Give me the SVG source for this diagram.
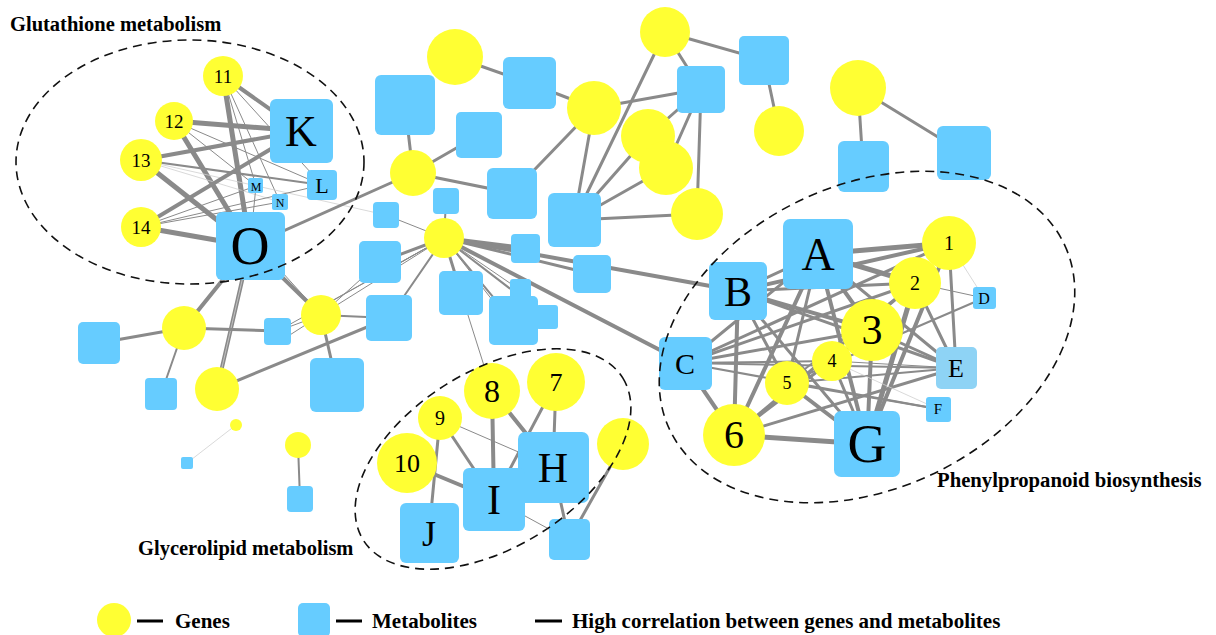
<svg xmlns="http://www.w3.org/2000/svg" width="1216" height="635" viewBox="0 0 1216 635">
<style>
.y{fill:#ffff33}
.b{fill:#66ccff}
.e line{stroke:#8a8a8a;stroke-linecap:round}
.w1{stroke-width:1}
.w2{stroke-width:2}
.w3{stroke-width:3}
.w4{stroke-width:4}
.w5{stroke-width:5}
.e line.f{stroke:#cfcfcf;stroke-width:0.8}
.t{font-family:"Liberation Serif","Times New Roman",serif;fill:#000;text-anchor:middle}
.h{font-family:"Liberation Serif","Times New Roman",serif;font-weight:bold;fill:#000}
.d{fill:none;stroke:#111;stroke-width:1.6;stroke-dasharray:9 6}
</style>
<rect width="1216" height="635" fill="#fff"/>
<g id="connectors" class="e">
<line x1="223" y1="76" x2="301" y2="131" class="w4"/>
<line x1="223" y1="76" x2="250" y2="246" class="w5"/>
<line x1="223" y1="76" x2="322" y2="185" class="w1"/>
<line x1="223" y1="76" x2="280" y2="202" class="w1"/>
<line x1="223" y1="76" x2="256" y2="186" class="w1"/>
<line x1="174" y1="121" x2="301" y2="131" class="w5"/>
<line x1="174" y1="121" x2="250" y2="246" class="w5"/>
<line x1="174" y1="121" x2="322" y2="185" class="w1"/>
<line x1="174" y1="121" x2="256" y2="186" class="w1"/>
<line x1="141" y1="160" x2="301" y2="131" class="w4"/>
<line x1="141" y1="160" x2="250" y2="246" class="w5"/>
<line x1="141" y1="160" x2="322" y2="185" class="w2"/>
<line x1="141" y1="160" x2="280" y2="202" class="f"/>
<line x1="141" y1="160" x2="386" y2="215" class="f"/>
<line x1="141" y1="227" x2="301" y2="131" class="w4"/>
<line x1="141" y1="227" x2="250" y2="246" class="w5"/>
<line x1="141" y1="227" x2="322" y2="185" class="w1"/>
<line x1="141" y1="227" x2="256" y2="186" class="w1"/>
<line x1="141" y1="227" x2="280" y2="202" class="w1"/>
<line x1="250" y1="246" x2="256" y2="186" class="w1"/>
<line x1="250" y1="246" x2="413" y2="173" class="w3"/>
<line x1="250" y1="246" x2="184" y2="328" class="w4"/>
<line x1="250" y1="246" x2="217" y2="389" class="w4"/>
<line x1="250" y1="246" x2="217" y2="389" class="f"/>
<line x1="250" y1="246" x2="321" y2="315" class="w4"/>
<line x1="262" y1="250" x2="321" y2="315" class="w1"/>
<line x1="455" y1="57" x2="529" y2="83" class="w3"/>
<line x1="529" y1="83" x2="594" y2="108" class="w3"/>
<line x1="594" y1="108" x2="512" y2="193" class="w3"/>
<line x1="594" y1="108" x2="574" y2="220" class="w3"/>
<line x1="594" y1="108" x2="701" y2="89" class="w3"/>
<line x1="665" y1="32" x2="701" y2="89" class="w3"/>
<line x1="665" y1="32" x2="764" y2="60" class="w3"/>
<line x1="665" y1="32" x2="574" y2="220" class="w3"/>
<line x1="764" y1="60" x2="779" y2="131" class="w3"/>
<line x1="648" y1="136" x2="701" y2="89" class="w3"/>
<line x1="666" y1="168" x2="701" y2="89" class="w3"/>
<line x1="701" y1="89" x2="697" y2="214" class="w3"/>
<line x1="574" y1="220" x2="648" y2="136" class="w3"/>
<line x1="574" y1="220" x2="666" y2="168" class="w3"/>
<line x1="574" y1="220" x2="697" y2="214" class="w3"/>
<line x1="413" y1="173" x2="405" y2="105" class="w3"/>
<line x1="413" y1="173" x2="479" y2="135" class="w3"/>
<line x1="413" y1="173" x2="512" y2="193" class="w3"/>
<line x1="858" y1="88" x2="863" y2="166" class="w3"/>
<line x1="858" y1="88" x2="964" y2="153" class="w3"/>
<line x1="444" y1="238" x2="446" y2="201" class="w2"/>
<line x1="444" y1="238" x2="386" y2="215" class="w1"/>
<line x1="444" y1="238" x2="525" y2="248" class="w4"/>
<line x1="444" y1="238" x2="592" y2="274" class="w3"/>
<line x1="444" y1="238" x2="738" y2="291" class="w4"/>
<line x1="444" y1="238" x2="685" y2="363" class="w4"/>
<line x1="444" y1="238" x2="380" y2="262" class="w3"/>
<line x1="444" y1="238" x2="370" y2="280" class="w1"/>
<line x1="444" y1="238" x2="389" y2="318" class="w2"/>
<line x1="444" y1="238" x2="321" y2="315" class="w1"/>
<line x1="444" y1="238" x2="325" y2="305" class="w1"/>
<line x1="444" y1="238" x2="278" y2="331" class="w1"/>
<line x1="444" y1="238" x2="461" y2="293" class="w3"/>
<line x1="444" y1="238" x2="513" y2="321" class="w2"/>
<line x1="444" y1="238" x2="500" y2="310" class="w1"/>
<line x1="444" y1="238" x2="520" y2="290" class="w1"/>
<line x1="444" y1="238" x2="547" y2="317" class="w2"/>
<line x1="461" y1="293" x2="492" y2="391" class="w1"/>
<line x1="321" y1="315" x2="380" y2="262" class="w1"/>
<line x1="321" y1="315" x2="389" y2="318" class="w2"/>
<line x1="321" y1="315" x2="278" y2="331" class="w1"/>
<line x1="321" y1="315" x2="282" y2="340" class="w1"/>
<line x1="321" y1="315" x2="337" y2="385" class="w3"/>
<line x1="184" y1="328" x2="99" y2="343" class="w3"/>
<line x1="184" y1="328" x2="161" y2="394" class="w2"/>
<line x1="184" y1="328" x2="278" y2="331" class="w3"/>
<line x1="217" y1="389" x2="389" y2="318" class="w3"/>
<line x1="236" y1="425" x2="187" y2="463" class="f"/>
<line x1="298" y1="445" x2="300" y2="499" class="w2"/>
<line x1="440" y1="418" x2="494" y2="499" class="w3"/>
<line x1="440" y1="418" x2="553" y2="467" class="w1"/>
<line x1="440" y1="418" x2="429" y2="533" class="w3"/>
<line x1="407" y1="463" x2="494" y2="499" class="w4"/>
<line x1="492" y1="391" x2="494" y2="499" class="w4"/>
<line x1="492" y1="391" x2="553" y2="467" class="w4"/>
<line x1="556" y1="382" x2="553" y2="467" class="w3"/>
<line x1="556" y1="382" x2="494" y2="499" class="w3"/>
<line x1="494" y1="499" x2="569" y2="540" class="w1"/>
<line x1="553" y1="467" x2="569" y2="540" class="w3"/>
<line x1="623" y1="444" x2="569" y2="540" class="w3"/>
<line x1="818" y1="254" x2="949" y2="243" class="w5"/>
<line x1="738" y1="291" x2="949" y2="243" class="w4"/>
<line x1="818" y1="254" x2="915" y2="283" class="w5"/>
<line x1="818" y1="254" x2="872" y2="330" class="w4"/>
<line x1="818" y1="254" x2="867" y2="444" class="w4"/>
<line x1="818" y1="254" x2="734" y2="435" class="w4"/>
<line x1="818" y1="254" x2="787" y2="383" class="w3"/>
<line x1="818" y1="254" x2="685" y2="363" class="w3"/>
<line x1="818" y1="254" x2="956" y2="368" class="w3"/>
<line x1="738" y1="291" x2="915" y2="283" class="w3"/>
<line x1="738" y1="291" x2="872" y2="330" class="w4"/>
<line x1="738" y1="291" x2="956" y2="368" class="w3"/>
<line x1="738" y1="291" x2="867" y2="444" class="w3"/>
<line x1="738" y1="291" x2="734" y2="435" class="w4"/>
<line x1="738" y1="291" x2="787" y2="383" class="w3"/>
<line x1="738" y1="291" x2="818" y2="254" class="w3"/>
<line x1="685" y1="363" x2="949" y2="243" class="w3"/>
<line x1="685" y1="363" x2="915" y2="283" class="w3"/>
<line x1="685" y1="363" x2="872" y2="330" class="w3"/>
<line x1="685" y1="363" x2="832" y2="361" class="w2"/>
<line x1="685" y1="363" x2="956" y2="368" class="w2"/>
<line x1="685" y1="363" x2="938" y2="409" class="w2"/>
<line x1="685" y1="363" x2="734" y2="435" class="w4"/>
<line x1="949" y1="243" x2="867" y2="444" class="w4"/>
<line x1="915" y1="283" x2="867" y2="444" class="w5"/>
<line x1="872" y1="330" x2="867" y2="444" class="w4"/>
<line x1="832" y1="361" x2="867" y2="444" class="w3"/>
<line x1="787" y1="383" x2="867" y2="444" class="w4"/>
<line x1="734" y1="435" x2="867" y2="444" class="w5"/>
<line x1="734" y1="435" x2="956" y2="368" class="w3"/>
<line x1="734" y1="435" x2="915" y2="283" class="w3"/>
<line x1="734" y1="435" x2="872" y2="330" class="w3"/>
<line x1="949" y1="243" x2="956" y2="368" class="w3"/>
<line x1="915" y1="283" x2="956" y2="368" class="w3"/>
<line x1="949" y1="243" x2="984" y2="298" class="f"/>
<line x1="915" y1="283" x2="984" y2="298" class="w1"/>
<line x1="787" y1="383" x2="984" y2="298" class="w2"/>
<line x1="787" y1="383" x2="956" y2="368" class="w2"/>
<line x1="832" y1="361" x2="938" y2="409" class="f"/>
<line x1="787" y1="383" x2="938" y2="409" class="w2"/>
<line x1="872" y1="330" x2="956" y2="368" class="w3"/>
<line x1="832" y1="361" x2="956" y2="368" class="w1"/>
<line x1="787" y1="383" x2="915" y2="283" class="w2"/>
</g>
<g id="node-11"><circle class="y" cx="223" cy="76" r="20"/><text class="t" x="223" y="83" font-size="19">11</text></g>
<g id="node-12"><circle class="y" cx="174" cy="121" r="19"/><text class="t" x="174" y="128" font-size="19">12</text></g>
<g id="node-13"><circle class="y" cx="141" cy="160" r="21"/><text class="t" x="141" y="167" font-size="19">13</text></g>
<g id="node-14"><circle class="y" cx="141" cy="227" r="20"/><text class="t" x="141" y="234" font-size="19">14</text></g>
<g id="node-K"><rect class="b" x="270" y="99" width="63" height="64" rx="6"/><text class="t" x="301" y="146" font-size="44">K</text></g>
<g id="node-L"><rect class="b" x="307" y="170" width="30" height="30" rx="4"/><text class="t" x="322" y="193" font-size="22">L</text></g>
<g id="node-M"><rect class="b" x="248" y="178" width="15" height="15" rx="2"/><text class="t" x="256" y="191" font-size="12">M</text></g>
<g id="node-N"><rect class="b" x="272" y="194" width="16" height="16" rx="2"/><text class="t" x="280" y="207" font-size="12">N</text></g>
<g id="node-O"><rect class="b" x="216" y="212" width="69" height="68" rx="6"/><text class="t" x="250" y="264" font-size="54">O</text></g>
<g id="node-m1"><circle class="y" cx="455" cy="57" r="28"/></g>
<g id="node-m2"><rect class="b" x="375" y="75" width="60" height="60" rx="6"/></g>
<g id="node-m3"><rect class="b" x="503" y="57" width="53" height="52" rx="6"/></g>
<g id="node-m4"><circle class="y" cx="594" cy="108" r="27"/></g>
<g id="node-m5"><rect class="b" x="456" y="112" width="46" height="46" rx="5"/></g>
<g id="node-m6"><circle class="y" cx="413" cy="173" r="23"/></g>
<g id="node-m7"><rect class="b" x="487" y="168" width="50" height="51" rx="6"/></g>
<g id="node-m8"><rect class="b" x="548" y="193" width="53" height="54" rx="6"/></g>
<g id="node-m9"><circle class="y" cx="665" cy="32" r="25"/></g>
<g id="node-m10"><rect class="b" x="677" y="66" width="48" height="47" rx="5"/></g>
<g id="node-m11"><rect class="b" x="739" y="36" width="50" height="49" rx="5"/></g>
<g id="node-m12"><circle class="y" cx="779" cy="131" r="25"/></g>
<g id="node-m13"><circle class="y" cx="648" cy="136" r="27"/></g>
<g id="node-m14"><circle class="y" cx="666" cy="168" r="27"/></g>
<g id="node-m15"><circle class="y" cx="697" cy="214" r="26"/></g>
<g id="node-m16"><rect class="b" x="433" y="188" width="26" height="26" rx="4"/></g>
<g id="node-m17"><rect class="b" x="373" y="202" width="26" height="26" rx="4"/></g>
<g id="node-m18"><circle class="y" cx="444" cy="238" r="20"/></g>
<g id="node-m19"><rect class="b" x="511" y="234" width="29" height="29" rx="4"/></g>
<g id="node-m20"><rect class="b" x="573" y="255" width="38" height="38" rx="5"/></g>
<g id="node-m21"><rect class="b" x="359" y="241" width="42" height="42" rx="5"/></g>
<g id="node-m22"><rect class="b" x="439" y="271" width="44" height="44" rx="5"/></g>
<g id="node-m23"><rect class="b" x="366" y="295" width="46" height="46" rx="5"/></g>
<g id="node-m24"><rect class="b" x="510" y="279" width="21" height="21" rx="3"/></g>
<g id="node-m25"><rect class="b" x="536" y="305" width="22" height="24" rx="3"/></g>
<g id="node-m26"><rect class="b" x="489" y="296" width="49" height="49" rx="5"/></g>
<g id="node-m27"><circle class="y" cx="321" cy="315" r="20"/></g>
<g id="node-m28"><rect class="b" x="264" y="318" width="27" height="27" rx="4"/></g>
<g id="node-m29"><circle class="y" cx="184" cy="328" r="22"/></g>
<g id="node-m30"><rect class="b" x="78" y="322" width="42" height="42" rx="5"/></g>
<g id="node-m31"><rect class="b" x="145" y="378" width="32" height="32" rx="4"/></g>
<g id="node-m32"><circle class="y" cx="217" cy="389" r="22"/></g>
<g id="node-m33"><rect class="b" x="310" y="358" width="54" height="54" rx="6"/></g>
<g id="node-m34"><circle class="y" cx="236" cy="425" r="6"/></g>
<g id="node-m35"><rect class="b" x="181" y="457" width="12" height="12" rx="2"/></g>
<g id="node-m36"><circle class="y" cx="298" cy="445" r="13"/></g>
<g id="node-m37"><rect class="b" x="287" y="486" width="26" height="26" rx="4"/></g>
<g id="node-m38"><circle class="y" cx="858" cy="88" r="28"/></g>
<g id="node-m39"><rect class="b" x="838" y="141" width="51" height="51" rx="6"/></g>
<g id="node-m40"><rect class="b" x="937" y="126" width="54" height="54" rx="6"/></g>
<g id="node-J"><rect class="b" x="400" y="503" width="59" height="60" rx="6"/><text class="t" x="429" y="546" font-size="36">J</text></g>
<g id="node-H"><rect class="b" x="518" y="432" width="71" height="71" rx="7"/><text class="t" x="553" y="482" font-size="42">H</text></g>
<g id="node-I"><rect class="b" x="463" y="468" width="62" height="63" rx="6"/><text class="t" x="494" y="514" font-size="42">I</text></g>
<g id="node-m41"><rect class="b" x="549" y="519" width="41" height="41" rx="5"/></g>
<g id="node-m42"><circle class="y" cx="623" cy="444" r="26"/></g>
<g id="node-7"><circle class="y" cx="556" cy="382" r="29"/><text class="t" x="556" y="391" font-size="26">7</text></g>
<g id="node-8"><circle class="y" cx="492" cy="391" r="28"/><text class="t" x="492" y="402" font-size="32">8</text></g>
<g id="node-9"><circle class="y" cx="440" cy="418" r="22"/><text class="t" x="440" y="425" font-size="20">9</text></g>
<g id="node-10"><circle class="y" cx="407" cy="463" r="30"/><text class="t" x="407" y="472" font-size="26">10</text></g>
<g id="node-A"><rect class="b" x="783" y="219" width="70" height="70" rx="7"/><text class="t" x="818" y="270" font-size="46">A</text></g>
<g id="node-B"><rect class="b" x="709" y="262" width="58" height="58" rx="6"/><text class="t" x="738" y="306" font-size="42">B</text></g>
<g id="node-C"><rect class="b" x="659" y="337" width="53" height="53" rx="6"/><text class="t" x="685" y="374" font-size="30">C</text></g>
<g id="node-D"><rect class="b" x="973" y="287" width="23" height="22" rx="3"/><text class="t" x="984" y="304" font-size="16">D</text></g>
<g id="node-E"><rect x="936" y="347" width="41" height="42" rx="5" fill="#8ed3f5"/><text class="t" x="956" y="377" font-size="26">E</text></g>
<g id="node-F"><rect class="b" x="926" y="397" width="25" height="25" rx="3"/><text class="t" x="938" y="414" font-size="15">F</text></g>
<g id="node-G"><rect class="b" x="834" y="411" width="66" height="66" rx="7"/><text class="t" x="867" y="462" font-size="54">G</text></g>
<g id="node-1"><circle class="y" cx="949" cy="243" r="27"/><text class="t" x="949" y="250" font-size="20">1</text></g>
<g id="node-2"><circle class="y" cx="915" cy="283" r="26"/><text class="t" x="915" y="290" font-size="20">2</text></g>
<g id="node-3"><circle class="y" cx="872" cy="330" r="31"/><text class="t" x="872" y="344" font-size="42">3</text></g>
<g id="node-4"><circle class="y" cx="832" cy="361" r="20"/><text class="t" x="832" y="367" font-size="18">4</text></g>
<g id="node-5"><circle class="y" cx="787" cy="383" r="22"/><text class="t" x="787" y="389" font-size="18">5</text></g>
<g id="node-6"><circle class="y" cx="734" cy="435" r="31"/><text class="t" x="734" y="448" font-size="40">6</text></g>
<g id="groups">
<ellipse class="d" cx="190" cy="162" rx="174" ry="122"/>
<ellipse class="d" cx="493" cy="459" rx="153" ry="88" transform="rotate(-32 493 459)"/>
<ellipse class="d" cx="867" cy="337" rx="218" ry="152" transform="rotate(-25 867 337)"/>
<text class="h" x="10" y="31" font-size="20.5">Glutathione metabolism</text>
<text class="h" x="138" y="555" font-size="20.5">Glycerolipid metabolism</text>
<text class="h" x="937" y="487" font-size="20.7">Phenylpropanoid biosynthesis</text>
</g>
<g id="legend">
<ellipse class="y" cx="114" cy="620" rx="17" ry="17"/>
<line x1="137" y1="621" x2="163" y2="621" stroke="#000" stroke-width="3"/>
<text class="h" x="175" y="628" font-size="21">Genes</text>
<rect class="b" x="298" y="603" width="32" height="34" rx="5"/>
<line x1="336" y1="621" x2="362" y2="621" stroke="#000" stroke-width="3"/>
<text class="h" x="372" y="628" font-size="21">Metabolites</text>
<line x1="535" y1="621" x2="562" y2="621" stroke="#000" stroke-width="3"/>
<text class="h" x="572" y="628" font-size="21">High correlation between genes and metabolites</text>
</g>
</svg>
